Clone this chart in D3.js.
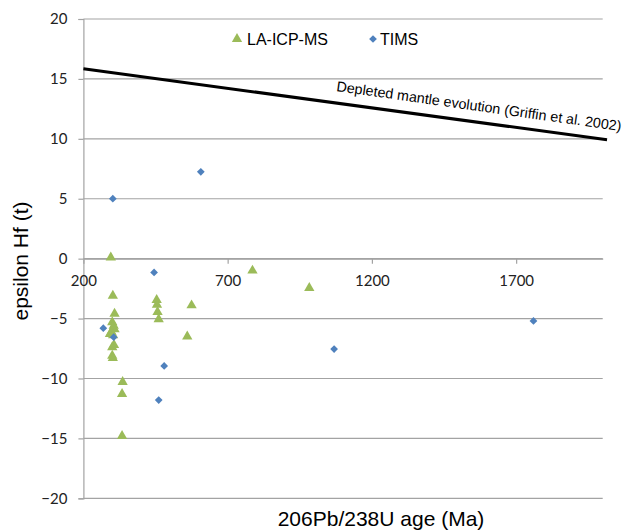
<!DOCTYPE html>
<html>
<head>
<meta charset="utf-8">
<script src="https://cdn.jsdelivr.net/npm/d3@7"></script>
<style>
  body { margin: 0; background: #fff; }
  #canvas { width: 627px; height: 531px; }
</style>
</head>
<body>
<div id="canvas"></div>
<script>

// LA-ICP-MS analyses (age Ma, epsilon Hf)
var laAge = [295, 302, 308, 300, 305, 308, 297, 292, 303, 306, 300, 300, 302,
             336, 334, 334, 454, 455, 457, 461, 560, 575, 786, 983];
var laEps = [0.1, -3.1, -4.6, -5.3, -5.6, -5.9, -6.1, -6.3, -6.4, -7.2, -7.4, -8.1, -8.3,
             -10.3, -11.3, -14.8, -3.45, -3.85, -4.45, -5.05, -6.5, -3.9, -1.0, -2.45];

// TIMS analyses
var timsAge = [302, 607, 445, 269, 305, 480, 461, 1069, 1760];
var timsEps = [5.0, 7.25, -1.15, -5.8, -6.55, -8.95, -11.8, -7.55, -5.2];

// depleted mantle curve (Griffin et al. 2002)
var dmAge = [200, 2015];
var dmEps = [15.85, 9.92];

var xTicks = [200, 700, 1200, 1700];
var yTicks = [-20, -15, -10, -5, 0, 5, 10, 15, 20];

var Chart = function () {
  var self = this;
  var svg = d3.select('#canvas').append('svg')
    .attr('width', 627)
    .attr('height', 531);

  var x = d3.scaleLinear().domain([200, 2000]).range([83.4, 602.7]);
  var y = d3.scaleLinear().domain([-20, 20]).range([498.3, 19]);
  var grey = '#a3a3a3';

  self.draw = function () {
    // horizontal gridlines
    svg.append('g').selectAll('line').data(yTicks)
      .enter().append('line')
      .attr('x1', x(200))
      .attr('x2', x(2000))
      .attr('y1', function (d) { return y(d); })
      .attr('y2', function (d) { return y(d); })
      .attr('stroke', grey)
      .attr('stroke-width', 1.2);

    // y axis, labels sit far from the line like excel does
    var yAxis = svg.append('g')
      .attr('transform', 'translate(' + x(200) + ',0)')
      .call(d3.axisLeft(y).tickValues(yTicks).tickSize(5).tickPadding(11).tickFormat(d3.format('d')));
    yAxis.selectAll('path, line').attr('stroke', grey).attr('stroke-width', 1.2);
    yAxis.selectAll('text')
      .attr('font-family', 'Lato, "Liberation Sans", sans-serif')
      .attr('font-size', '15px')
      .attr('fill', '#222');

    // x axis crosses at epsilon = 0
    var xAxis = svg.append('g')
      .attr('transform', 'translate(0,' + y(0) + ')')
      .call(d3.axisBottom(x).tickValues(xTicks).tickSize(5).tickPadding(12).tickSizeOuter(0)
        .tickFormat(d3.format('d')));
    xAxis.selectAll('path, line').attr('stroke', grey).attr('stroke-width', 1.2);
    xAxis.selectAll('text')
      .attr('font-family', 'Lato, "Liberation Sans", sans-serif')
      .attr('font-size', '15px')
      .attr('fill', '#222');

    // depleted mantle line
    var dm = dmAge.map(function (a, i) { return [x(a), y(dmEps[i])]; });
    svg.append('path')
      .attr('d', d3.line()(dm))
      .attr('stroke', '#000')
      .attr('stroke-width', 3)
      .attr('fill', 'none');

    svg.append('text')
      .attr('transform', 'translate(336,91) rotate(8)')
      .attr('font-family', '"Liberation Sans", Arial, sans-serif')
      .attr('font-size', '14.3px')
      .text('Depleted mantle evolution (Griffin et al. 2002)');

    // points
    var tri = d3.symbol().type(d3.symbolTriangle).size(46);
    var dia = d3.symbol().type(d3.symbolSquare).size(30);

    svg.append('g').selectAll('path').data(d3.range(laAge.length))
      .enter().append('path')
      .attr('d', tri)
      .attr('transform', function (i) { return 'translate(' + x(laAge[i]) + ',' + y(laEps[i]) + ')'; })
      .attr('fill', '#9bbb59');

    svg.append('g').selectAll('path').data(d3.range(timsAge.length))
      .enter().append('path')
      .attr('d', dia)
      .attr('transform', function (i) { return 'translate(' + x(timsAge[i]) + ',' + y(timsEps[i]) + ') rotate(45)'; })
      .attr('fill', '#4f81bd');

    // legend
    svg.append('path').attr('d', tri).attr('transform', 'translate(237,39)').attr('fill', '#9bbb59');
    svg.append('text').attr('x', 247).attr('y', 45)
      .attr('font-family', '"Liberation Sans", Arial, sans-serif')
      .attr('font-size', '16px')
      .text('LA-ICP-MS');
    svg.append('path').attr('d', dia).attr('transform', 'translate(373,39) rotate(45)').attr('fill', '#4f81bd');
    svg.append('text').attr('x', 380).attr('y', 45)
      .attr('font-family', '"Liberation Sans", Arial, sans-serif')
      .attr('font-size', '16px')
      .text('TIMS');

    // axis titles
    svg.append('text')
      .attr('transform', 'translate(28,261) rotate(-90)')
      .attr('text-anchor', 'middle')
      .attr('font-family', '"Liberation Sans", Arial, sans-serif')
      .attr('font-size', '21px')
      .text('epsilon Hf (t)');

    svg.append('text')
      .attr('x', 381)
      .attr('y', 526)
      .attr('text-anchor', 'middle')
      .attr('font-family', '"Liberation Sans", Arial, sans-serif')
      .attr('font-size', '21px')
      .text('206Pb/238U age (Ma)');
  };
};

var chart = new Chart();
chart.draw();
</script>
</body>
</html>
